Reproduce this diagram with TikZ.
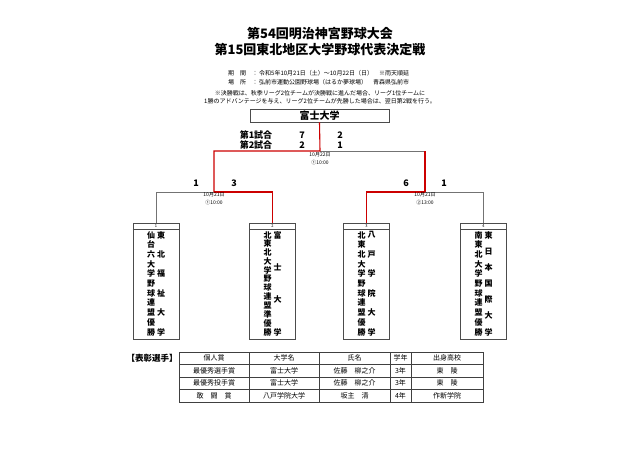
\documentclass[tikz,border=0pt]{standalone}
\usepackage{fontspec}
\setmainfont{Noto Sans CJK JP}
\begin{document}
\begin{tikzpicture}[x=1pt,y=-1pt,
  sz/.style={font=\fontsize{#1}{#1}\selectfont, inner sep=0pt},
  bsz/.style={font=\fontsize{#1}{#1}\selectfont\bfseries, inner sep=0pt},
  win/.style={draw=red!80!black, line width=1.1pt},
  lose/.style={draw=black!55, line width=0.6pt},
  boxline/.style={draw=black!70, line width=0.6pt},
  teambox/.style={boxline, anchor=north, minimum width=46pt, minimum height=116pt, inner sep=0pt},
  tate/.style={bsz=8},
  date/.style={sz=5},
  tab/.style={draw=black!75, line width=0.6pt},
  cell/.style={sz=7}]
\useasboundingbox (0,0) rectangle (640,452);

\node[bsz=13] (title1) at (320,34) {第54回明治神宮野球大会};
\node[bsz=13] (title2) at (320,50) {第15回東北地区大学野球代表決定戦};
\node[sz=6, anchor=west] (kikan) at (228,73) {期　間　：};
\node[sz=6, anchor=west] (kikan1) at (259,73) {令和5年10月21日（土）～10月22日（日）　※雨天順延};
\node[sz=6, anchor=west] (basho) at (228,82) {場　所　：};
\node[sz=6, anchor=west] (basho1) at (259,82) {弘前市運動公園野球場（はるか夢球場）　青森県弘前市};
\node[sz=6] (note1) at (320,93) {※決勝戦は、秋季リーグ2位チームが決勝戦に進んだ場合、リーグ1位チームに};
\node[sz=6] (note2) at (320,101) {1勝のアドバンテージを与え、リーグ2位チームが先勝した場合は、翌日第2戦を行う。};

\node[boxline, minimum width=139pt, minimum height=13pt, inner sep=0pt, bsz=10] (w) at (319.5,115.5) {富士大学};

\node[bsz=9] (g1) at (256,135) {第1試合};
\node[bsz=9] (g2) at (256,145) {第2試合};
\node[bsz=9] (g1a) at (302,135) {7};
\node[bsz=9] (g1b) at (340,135) {2};
\node[bsz=9] (g2a) at (302,145) {2};
\node[bsz=9] (g2b) at (340,145) {1};

\foreach \k/\x/\n/\m/\lg/\tm in {
  1/156/11/6/{仙,台,六,大,学,野,球,連,盟,優,勝}/{東,北,福,祉,大,学},
  2/272.5/12/4/{北,東,北,大,学,野,球,連,盟,準,優,勝}/{富,士,大,学},
  3/366.5/11/6/{北,東,北,大,学,野,球,連,盟,優,勝}/{八,戸,学,院,大,学},
  4/483.5/11/7/{南,東,北,大,学,野,球,連,盟,優,勝}/{東,日,本,国,際,大,学}}
{
  \node[teambox] (t\k) at (\x,223) {};
  \draw[boxline] (t\k.north west) ++(0,6) -- ++(46,0);
  \node[sz=4] (n\k) at (\x,226) {\k};
  \foreach \c [count=\i] in \lg
    \node[tate] (l\k-\i) at ({\x-5},{235+(\i-1)*97/(\n-1)}) {\c};
  \foreach \c [count=\i] in \tm
    \node[tate] (m\k-\i) at ({\x+5},{235+(\i-1)*97/(\m-1)}) {\c};
}

\coordinate (f) at (320,151);
\coordinate (sL) at (214,192);
\coordinate (sR) at (425,192);

\draw[lose] (f) -- (sR |- f);
\draw[lose] (sL) -| (t1.north);
\draw[lose] (sR) -| (t4.north);
\draw[win] (w.south) -- (f) -| (sL);
\draw[win] (sR |- f) -- (sR);
\draw[win] (sL) -| (t2.north);
\draw[win] (sR) -| (t3.north);

\node[date] (d0) at (320,155) {10月22日};
\node[date] (d0t) at (320,163) {①10:00};
\node[date] (d1) at (214,195) {10月21日};
\node[date] (d1t) at (214,203) {①10:00};
\node[date] (d2) at (425,195) {10月21日};
\node[date] (d2t) at (425,203) {②13:00};

\node[bsz=9] (s1a) at (196,183) {1};
\node[bsz=9] (s1b) at (234,183) {3};
\node[bsz=9] (s2a) at (406,183) {6};
\node[bsz=9] (s2b) at (444,183) {1};

\node[bsz=8.5] (hyosho) at (152,358) {【表彰選手】};
\draw[tab] (179,352) rectangle (483,402);
\foreach \y in {364,377,389}
  \draw[tab] (179,\y) -- (483,\y);
\foreach \x in {249,319,390,411}
  \draw[tab] (\x,352) -- (\x,402);
\foreach \a/\b/\c/\d/\e [count=\r] in {
  個人賞/大学名/氏名/学年/出身高校,
  最優秀選手賞/富士大学/佐藤　柳之介/3年/東　陵,
  最優秀投手賞/富士大学/佐藤　柳之介/3年/東　陵,
  敢　闘　賞/八戸学院大学/坂主　清/4年/作新学院}
{
  \node[cell] (a\r) at (214,{345.5+\r*12.5}) {\a};
  \node[cell] (b\r) at (284,{345.5+\r*12.5}) {\b};
  \node[cell] (c\r) at (354.5,{345.5+\r*12.5}) {\c};
  \node[cell] (d\r) at (400.5,{345.5+\r*12.5}) {\d};
  \node[cell] (e\r) at (447,{345.5+\r*12.5}) {\e};
}
\end{tikzpicture}
\end{document}
